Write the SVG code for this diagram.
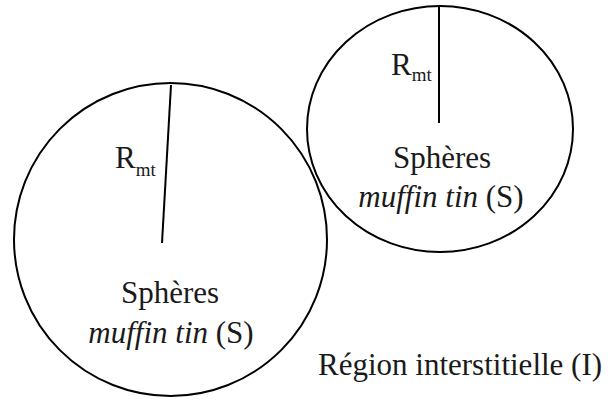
<svg xmlns="http://www.w3.org/2000/svg" width="608" height="401" viewBox="0 0 608 401">
<style>
.c{fill:none;stroke:#000;stroke-width:2}
.r{stroke:#000;stroke-width:2}
text{font-family:"Liberation Serif","Times New Roman",serif;font-size:31px;fill:#1a1a1a}
.sub{font-size:19px}
.it{font-style:italic}
</style>
<rect width="608" height="401" fill="#fff"/>
<g id="sphere-large">
<circle class="c" cx="170.5" cy="239.5" r="156.5"/>
<text x="170" y="303" text-anchor="middle">Sphères</text>
<text x="171" y="343" text-anchor="middle"><tspan class="it">muffin tin</tspan> (S)</text>
</g>
<g id="sphere-small">
<ellipse class="c" cx="440" cy="129" rx="133" ry="123"/>
<text x="442" y="168" text-anchor="middle">Sphères</text>
<text x="441" y="207" text-anchor="middle"><tspan class="it">muffin tin</tspan> (S)</text>
</g>
<g id="connectors">
<line class="r" x1="171" y1="85" x2="162" y2="243"/>
<line class="r" x1="439" y1="6" x2="439" y2="123"/>
</g>
<g id="labels">
<text x="115" y="168">R<tspan class="sub" dy="8">mt</tspan></text>
<text x="391" y="75">R<tspan class="sub" dy="6">mt</tspan></text>
<text x="318" y="375">Région interstitielle (I)</text>
</g>
</svg>
